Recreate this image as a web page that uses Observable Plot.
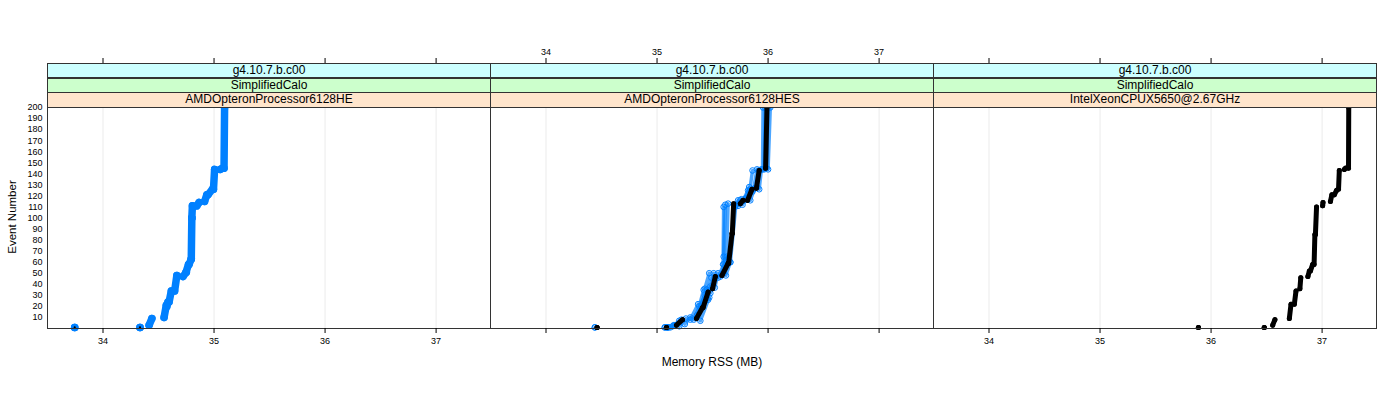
<!DOCTYPE html>
<html>
<head>
<meta charset="utf-8">
<script src="https://cdn.jsdelivr.net/npm/d3@7"></script>
<script src="https://cdn.jsdelivr.net/npm/@observablehq/plot@0.6"></script>
<style>
  html, body { margin: 0; padding: 0; background: #fff; }
  #wrap { position: relative; width: 1400px; height: 400px; font-family: "Liberation Sans", Arial, sans-serif; }
  .panel { position: absolute; top: 0; }
  .strip { position: absolute; box-sizing: border-box; border: 1px solid #333; font-size: 12px; line-height: 13px; text-align: center; color: #000; white-space: nowrap; overflow: hidden; }
  .lab { position: absolute; font-size: 12px; color: #000; white-space: nowrap; }
</style>
</head>
<body>
<div id="wrap"></div>
<script>
// ---- data ----
const release = "g4.10.7.b.c00";
const testName = "SimplifiedCalo";
const cpus = ["AMDOpteronProcessor6128HE", "AMDOpteronProcessor6128HES", "IntelXeonCPUX5650@2.67GHz"];
const xTicks = [34, 35, 36, 37];
const yTicks = [10, 20, 30, 40, 50, 60, 70, 80, 90, 100, 110, 120, 130, 140, 150, 160, 170, 180, 190, 200];
const xLabel = "Memory RSS (MB)";
const yLabel = "Event Number";

// segments: [memory start, event start, memory end, event end]
const heBlue = [
  [33.745, 1, 33.745, 1],
  [34.333, 1, 34.333, 1],
  [34.415, 3, 34.44, 9],
  [34.55, 10, 34.57, 21],
  [34.575, 20, 34.585, 24],
  [34.595, 24, 34.615, 34],
  [34.645, 34, 34.665, 48],
  [34.72, 47, 34.75, 51],
  [34.748, 51, 34.77, 58],
  [34.775, 58, 34.795, 63],
  [34.795, 63, 34.8, 100],
  [34.8, 100, 34.805, 111],
  [34.845, 111, 34.865, 114],
  [34.915, 115, 34.935, 121],
  [34.945, 121, 34.985, 126],
  [34.995, 126, 35.005, 144],
  [35.055, 144, 35.075, 145],
  [35.09, 145, 35.095, 200]
];
const heBlack = [
  [33.745, 1, 33.745, 1],
  [34.333, 1, 34.333, 1]
];

const hesBlue1 = [
  [34.44, 1, 34.44, 1],
  [35.07, 1, 35.07, 1],
  [35.14, 2, 35.2, 7],
  [35.3, 8, 35.37, 22],
  [35.38, 20, 35.42, 35],
  [35.45, 33, 35.49, 46],
  [35.55, 46, 35.6, 58],
  [35.595, 58, 35.6, 110],
  [35.7, 110, 35.73, 116],
  [35.77, 115, 35.82, 125],
  [35.835, 125, 35.86, 143],
  [35.95, 144, 35.955, 200]
];
const hesBlue2 = [
  [35.1, 1, 35.1, 1],
  [35.2, 2, 35.26, 9],
  [35.39, 7, 35.47, 28],
  [35.46, 26, 35.48, 38],
  [35.52, 37, 35.55, 50],
  [35.62, 48, 35.66, 60],
  [35.66, 60, 35.71, 112],
  [35.77, 112, 35.8, 118],
  [35.84, 116, 35.88, 127],
  [35.92, 126, 35.94, 144],
  [36.0, 144, 36.02, 200]
];
const hesBlue3 = [
  [35.09, 1, 35.09, 1],
  [35.16, 3, 35.22, 8],
  [35.33, 8, 35.43, 30],
  [35.48, 32, 35.51, 50],
  [35.57, 47, 35.62, 62],
  [35.625, 62, 35.64, 113],
  [35.73, 111, 35.76, 117],
  [35.79, 116, 35.83, 128],
  [35.87, 126, 35.9, 144],
  [35.965, 144, 35.975, 200]
];
const hesBlue4 = [
  [35.12, 1, 35.15, 3],
  [35.25, 4, 35.3, 10],
  [35.36, 12, 35.45, 35],
  [35.43, 36, 35.47, 50],
  [35.6, 50, 35.63, 65],
  [35.6, 65, 35.615, 112],
  [35.74, 113, 35.75, 116],
  [35.81, 118, 35.86, 124],
  [35.9, 128, 35.92, 143],
  [35.985, 145, 36.0, 200]
];
const hesBlack = [
  [34.46, 1, 34.46, 1],
  [35.085, 1, 35.085, 1],
  [35.175, 3, 35.23, 8],
  [35.355, 9, 35.41, 19],
  [35.415, 19, 35.46, 33],
  [35.5, 36, 35.525, 47],
  [35.585, 48, 35.64, 59],
  [35.645, 59, 35.675, 86],
  [35.678, 86, 35.69, 113],
  [35.75, 113, 35.775, 116],
  [35.815, 116, 35.855, 126],
  [35.895, 127, 35.92, 143],
  [35.978, 145, 35.99, 200]
];

const xeonBlack = [
  [35.886, 1, 35.886, 1],
  [36.479, 1, 36.479, 1],
  [36.555, 3, 36.575, 8],
  [36.705, 9, 36.72, 22],
  [36.75, 22, 36.765, 34],
  [36.8, 36, 36.808, 46],
  [36.872, 47, 36.885, 52],
  [36.895, 52, 36.915, 58],
  [36.928, 58, 36.935, 85],
  [36.94, 85, 36.95, 110],
  [37.005, 111, 37.008, 114],
  [37.075, 115, 37.088, 121],
  [37.11, 121, 37.13, 125],
  [37.148, 126, 37.155, 143],
  [37.2, 144, 37.21, 145],
  [37.238, 145, 37.24, 200]
];

// ---- drawing ----
const BLUE = "#0080ff";
const wrap = document.getElementById("wrap");
const panelLeft = [47, 490, 933];
const panelW = 443;
const TOP = 63, BOTTOM = 328, PTOP = 107;

function thick(data, color, w) {
  const ends = data.flatMap(d => [[d[0], d[1]], [d[2], d[3]]]);
  return [
    Plot.link(data, {x1: d => d[0], y1: d => d[1], x2: d => d[2], y2: d => d[3], stroke: color, strokeWidth: w, strokeLinecap: "round"}),
    Plot.dot(ends, {x: d => d[0], y: d => d[1], r: w / 2, fill: color, stroke: "none"})
  ];
}
function thin(data, color) {
  const ends = data.flatMap(d => [[d[0], d[1]], [d[2], d[3]]]);
  return [
    Plot.link(data, {x1: d => d[0], y1: d => d[1], x2: d => d[2], y2: d => d[3], stroke: color, strokeWidth: 3.5, strokeOpacity: 0.7, strokeLinecap: "round"}),
    Plot.dot(ends, {x: d => d[0], y: d => d[1], r: 2.8, fill: "none", stroke: color, strokeWidth: 1})
  ];
}

function makePanel(i, seriesMarks) {
  const ml = i === 0 ? 47 : 0;
  const mr = i === 2 ? 1400 - (933 + panelW) : 0;
  const marks = [
    Plot.ruleX(xTicks, {x: d => d, y1: 0, y2: 200, stroke: "#ebebeb", strokeWidth: 1}),
    ...seriesMarks,
    Plot.frame({stroke: "#333"}),
    Plot.axisX({anchor: "bottom", ticks: xTicks, tickSize: 5, tickPadding: 4, fontSize: 9, label: null,
      tickFormat: i === 1 ? () => "" : d => d}),
    Plot.axisX({anchor: "top", ticks: xTicks, tickSize: 6, tickPadding: 3, fontSize: 9, label: null,
      tickFormat: i === 1 ? d => d : () => ""})
  ];
  if (i === 0) marks.push(Plot.axisY({anchor: "left", ticks: yTicks, tickSize: 0, tickPadding: 5, fontSize: 9, label: null}));
  const p = Plot.plot({
    width: ml + panelW + mr,
    height: 400,
    marginLeft: ml, marginRight: mr, marginTop: TOP, marginBottom: 400 - BOTTOM,
    style: {fontFamily: "Liberation Sans, Arial, sans-serif", fontSize: "9px", color: "#000", background: "transparent", overflow: "visible"},
    x: {domain: [33.5, 37.49]},
    y: {domain: [0, 200], range: [BOTTOM, PTOP], axis: i === 0 ? undefined : null},
    marks
  });
  const div = document.createElement("div");
  div.className = "panel";
  div.style.left = (panelLeft[i] - ml) + "px";
  div.appendChild(p);
  wrap.appendChild(div);

  const strips = [[release, "#ccffff", 63, 15], [testName, "#ccffcc", 77.5, 15], [cpus[i], "#ffe5cc", 92, 15.5]];
  for (const [txt, bg, top, h] of strips) {
    const s = document.createElement("div");
    s.className = "strip";
    s.style.left = panelLeft[i] + "px";
    s.style.width = (panelW + 1) + "px";
    s.style.top = top + "px";
    s.style.height = h + "px";
    s.style.background = bg;
    s.textContent = txt;
    wrap.appendChild(s);
  }
}

makePanel(0, [...thick(heBlue, BLUE, 7.5), Plot.dot(heBlack, {x: d => d[0], y: d => d[1], r: 1.1, fill: "#000"})]);
makePanel(1, [...thin(hesBlue1, BLUE), ...thin(hesBlue2, BLUE), ...thin(hesBlue3, BLUE), ...thin(hesBlue4, BLUE), ...thick(hesBlack, "#000", 5)]);
makePanel(2, [...thick(xeonBlack, "#000", 5)]);

const xl = document.createElement("div");
xl.className = "lab";
xl.textContent = xLabel;
xl.style.left = "712px"; xl.style.top = "355px"; xl.style.transform = "translateX(-50%)";
wrap.appendChild(xl);
const yl = document.createElement("div");
yl.className = "lab";
yl.style.fontSize = "11.5px";
yl.textContent = yLabel;
yl.style.left = "12px"; yl.style.top = "217px"; yl.style.transform = "translate(-50%,-50%) rotate(-90deg)";
wrap.appendChild(yl);
</script>
</body>
</html>
